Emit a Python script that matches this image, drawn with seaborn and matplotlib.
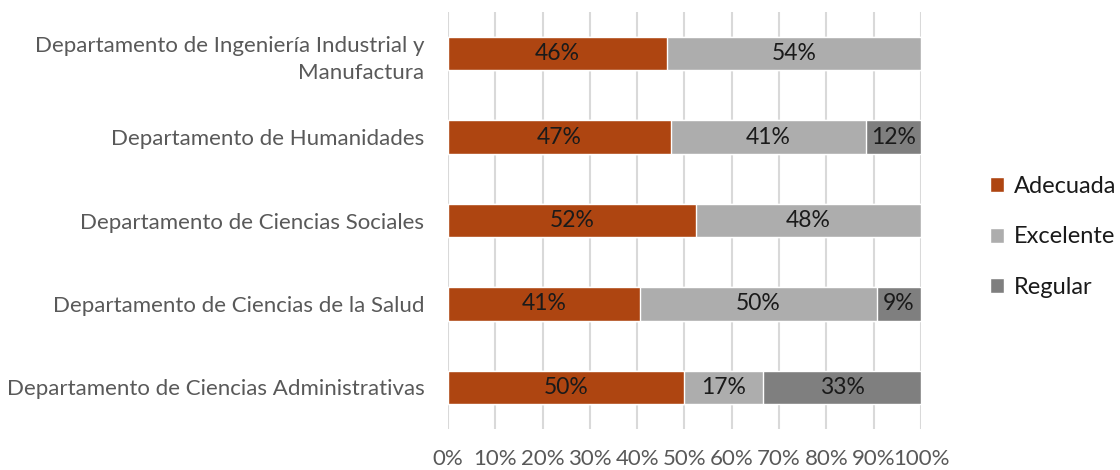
import numpy as np
import pandas as pd
from matplotlib import pyplot as plt
import seaborn as sns

# datos (porcentaje por departamento)
departamentos = [
    'Departamento de Ingeniería Industrial y\nManufactura',
    'Departamento de Humanidades',
    'Departamento de Ciencias Sociales',
    'Departamento de Ciencias de la Salud',
    'Departamento de Ciencias Administrativas',
]
adecuada = [46.2, 47.1, 52.4, 40.6, 50.0]
excelente = [53.8, 41.2, 47.6, 50.0, 16.7]
regular = [0.0, 11.7, 0.0, 9.4, 33.3]

series = ['Adecuada', 'Excelente', 'Regular']
colores = ['#AE4511', '#ADADAD', '#7F7F7F']

df = pd.DataFrame({'Departamento': departamentos, 'Adecuada': adecuada,
                   'Excelente': excelente, 'Regular': regular})

sns.set_style('white')
plt.rcParams['font.family'] = ['Lato', 'DejaVu Sans']

fig = plt.figure(figsize=(11.2, 4.7), dpi=100)
ax = fig.add_axes([0.4, 0.087, 0.4223, 0.8875])

# barras apiladas: se dibuja el acumulado de atrás hacia adelante
acumulado = df[series].cumsum(axis=1)
for serie, color in reversed(list(zip(series, colores))):
    sns.barplot(x=acumulado[serie], y=df['Departamento'], color=color,
                width=0.4, saturation=1, ax=ax, label=serie, zorder=2)

# etiquetas de porcentaje en el centro de cada segmento
for i in range(len(departamentos)):
    inicio = 0
    for serie in series:
        v = df[serie][i]
        if v > 0:
            ax.text(inicio + v / 2, i, f'{v:.0f}%', ha='center', va='center',
                    fontsize=16.5, color='#1a1a1a', zorder=3)
        inicio += v

ax.set_xlim(0, 100)
ax.set_ylim(4.5, -0.5)
ax.set_xticks(np.arange(0, 101, 10))
ax.set_xticklabels([f'{t}%' for t in range(0, 101, 10)])
ax.grid(True, axis='x', color='#D9D9D9', linewidth=1.5, zorder=0)
ax.set_axisbelow(True)
for s in ax.spines.values():
    s.set_visible(False)
ax.set_xlabel('')
ax.set_ylabel('')
ax.tick_params(axis='x', length=0, pad=14, labelsize=16, labelcolor='#595959')
ax.tick_params(axis='y', length=0, pad=17, labelsize=16, labelcolor='#595959')
for etiqueta in ax.get_yticklabels():
    etiqueta.set_linespacing(1.45)

handles, labels = ax.get_legend_handles_labels()
orden = [labels.index(s) for s in series]
ax.legend([handles[k] for k in orden], series, loc='center left',
          bbox_to_anchor=(0.884, 0.496), bbox_transform=fig.transFigure,
          frameon=False, fontsize=17, handlelength=0.6, handleheight=0.6,
          handletextpad=0.4, labelspacing=1.25, labelcolor='#1a1a1a',
          borderpad=0, borderaxespad=0)

plt.savefig('out.png', dpi=100)
plt.close()
